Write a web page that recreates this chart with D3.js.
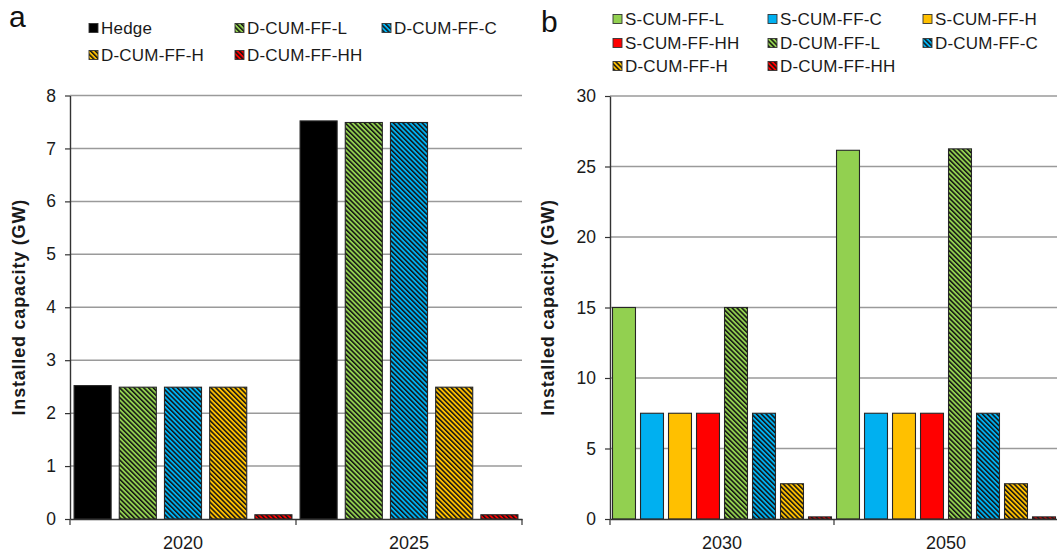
<!DOCTYPE html>
<html>
<head>
<meta charset="utf-8">
<script src="https://cdn.jsdelivr.net/npm/d3@7"></script>
<style>
  html, body { margin: 0; padding: 0; background: #fff; }
  svg { display: block; font-family: Arial, "Liberation Sans", sans-serif; }
</style>
</head>
<body>
<svg id="chart" width="1057" height="555"></svg>
<script>
// ---------- data ----------
const aCategories = ["2020", "2025"];
const aHedge = [2.52, 7.52];
const aDL = [2.49, 7.49];
const aDC = [2.49, 7.49];
const aDH = [2.49, 2.49];
const aDHH = [0.08, 0.08];
const aTicks = [0, 1, 2, 3, 4, 5, 6, 7, 8];

const bCategories = ["2030", "2050"];
const bSL = [15, 26.15];
const bSC = [7.5, 7.5];
const bSH = [7.5, 7.5];
const bSHH = [7.5, 7.5];
const bDL = [15, 26.25];
const bDC = [7.5, 7.5];
const bDH = [2.5, 2.5];
const bDHH = [0.15, 0.15];
const bTicks = [0, 5, 10, 15, 20, 25, 30];

const yTitle = "Installed capacity (GW)";

// ---------- styles ----------
const COL = { black: "#000000", green: "#92D050", blue: "#00B0F0", yellow: "#FFC000", red: "#FF0000" };

const aSeries = [
  { name: "Hedge", values: aHedge, color: "black", hatch: false },
  { name: "D-CUM-FF-L", values: aDL, color: "green", hatch: true },
  { name: "D-CUM-FF-C", values: aDC, color: "blue", hatch: true },
  { name: "D-CUM-FF-H", values: aDH, color: "yellow", hatch: true },
  { name: "D-CUM-FF-HH", values: aDHH, color: "red", hatch: true }
];
const bSeries = [
  { name: "S-CUM-FF-L", values: bSL, color: "green", hatch: false },
  { name: "S-CUM-FF-C", values: bSC, color: "blue", hatch: false },
  { name: "S-CUM-FF-H", values: bSH, color: "yellow", hatch: false },
  { name: "S-CUM-FF-HH", values: bSHH, color: "red", hatch: false },
  { name: "D-CUM-FF-L", values: bDL, color: "green", hatch: true },
  { name: "D-CUM-FF-C", values: bDC, color: "blue", hatch: true },
  { name: "D-CUM-FF-H", values: bDH, color: "yellow", hatch: true },
  { name: "D-CUM-FF-HH", values: bDHH, color: "red", hatch: true }
];

const svg = d3.select("#chart");
const defs = svg.append("defs");
Object.entries(COL).forEach(([k, c]) => {
  const p = defs.append("pattern")
    .attr("id", "hatch-" + k)
    .attr("patternUnits", "userSpaceOnUse")
    .attr("width", 3.4).attr("height", 3.4)
    .attr("patternTransform", "rotate(-45)");
  p.append("rect").attr("width", 3.4).attr("height", 3.4).attr("fill", c);
  p.append("rect").attr("width", 1.5).attr("height", 3.4).attr("fill", "#111");
});
const fillOf = s => s.hatch ? `url(#hatch-${s.color})` : COL[s.color];

function panel(opts) {
  const { x0, x1, yTop, yBot, cats, series, ticks, titleX, letter, letterX, letterY, legend } = opts;
  const g = svg.append("g");
  const y = d3.scaleLinear().domain([ticks[0], ticks[ticks.length - 1]]).range([yBot, yTop]);
  const xc = d3.scaleBand().domain(cats).range([x0, x1]).padding(0);
  const xs = d3.scaleBand().domain(series.map(s => s.name)).range([0, xc.bandwidth()])
    .paddingInner(0.18).paddingOuter(0.09);

  // gridlines
  g.append("g").selectAll("line").data(ticks.slice(1)).join("line")
    .attr("x1", x0).attr("x2", x1)
    .attr("y1", d => y(d)).attr("y2", d => y(d))
    .attr("stroke", "#9a9a9a").attr("stroke-width", 1.5);

  // bars
  cats.forEach((c, ci) => {
    g.append("g").selectAll("rect").data(series).join("rect")
      .attr("x", s => xc(c) + xs(s.name))
      .attr("width", xs.bandwidth())
      .attr("y", s => y(s.values[ci]))
      .attr("height", s => y(0) - y(s.values[ci]))
      .attr("fill", s => fillOf(s))
      .attr("stroke", "#262626").attr("stroke-width", 1.1);
  });

  // y axis
  const ya = d3.axisLeft(y).tickValues(ticks).tickSize(5).tickPadding(9).tickSizeOuter(0);
  const yg = g.append("g").attr("transform", `translate(${x0},0)`).call(ya);
  yg.select(".domain").attr("stroke", "#333").attr("stroke-width", 1.4);
  yg.selectAll(".tick line").attr("stroke", "#333").attr("stroke-width", 1.2);
  yg.selectAll(".tick text").attr("font-size", 17.5).attr("fill", "#1a1a1a")
    .attr("font-family", "Arial, 'Liberation Sans', sans-serif");

  // x axis
  const xa = d3.axisBottom(xc).tickSize(0).tickPadding(17).tickSizeOuter(0);
  const xg = g.append("g").attr("transform", `translate(0,${yBot})`).call(xa);
  xg.select(".domain").attr("stroke", "#333").attr("stroke-width", 1.4);
  xg.selectAll(".tick text").attr("font-size", 18).attr("fill", "#1a1a1a")
    .attr("font-family", "Arial, 'Liberation Sans', sans-serif");
  // boundary ticks
  const bounds = cats.map(c => xc(c)).concat([x1]);
  g.append("g").selectAll("line").data(bounds).join("line")
    .attr("x1", d => d).attr("x2", d => d)
    .attr("y1", yBot).attr("y2", yBot + 6)
    .attr("stroke", "#333").attr("stroke-width", 1.2);

  // y title
  g.append("text")
    .attr("transform", `translate(${titleX},${(yTop + yBot) / 2}) rotate(-90)`)
    .attr("text-anchor", "middle").attr("dominant-baseline", "central")
    .attr("font-size", 18).attr("font-weight", "bold").attr("letter-spacing", 0.8)
    .attr("fill", "#1a1a1a").text(yTitle);

  // panel letter
  g.append("text").attr("x", letterX).attr("y", letterY)
    .attr("font-size", 30).attr("fill", "#111").text(letter);

  // legend
  const lg = g.append("g");
  series.forEach((s, i) => {
    const col = i % legend.cols, row = Math.floor(i / legend.cols);
    const lx = legend.xs[col], ly = legend.ys[row];
    lg.append("rect").attr("x", lx).attr("y", ly - 4.5).attr("width", 9).attr("height", 9)
      .attr("fill", fillOf(s)).attr("stroke", "#333").attr("stroke-width", 0.9);
    lg.append("text").attr("x", lx + 12).attr("y", ly).attr("dominant-baseline", "central")
      .attr("font-size", 17).attr("letter-spacing", 0.2).attr("fill", "#1a1a1a").text(s.name);
  });
}

panel({
  x0: 70, x1: 522, yTop: 95.5, yBot: 519, cats: aCategories, series: aSeries, ticks: aTicks,
  titleX: 19, letter: "a", letterX: 9, letterY: 27,
  legend: { cols: 3, xs: [89, 235, 382], ys: [28, 55] }
});
panel({
  x0: 610, x1: 1058, yTop: 96, yBot: 519, cats: bCategories, series: bSeries, ticks: bTicks,
  titleX: 548, letter: "b", letterX: 541, letterY: 32,
  legend: { cols: 3, xs: [613, 768, 923], ys: [19, 43, 66] }
});
</script>
</body>
</html>
